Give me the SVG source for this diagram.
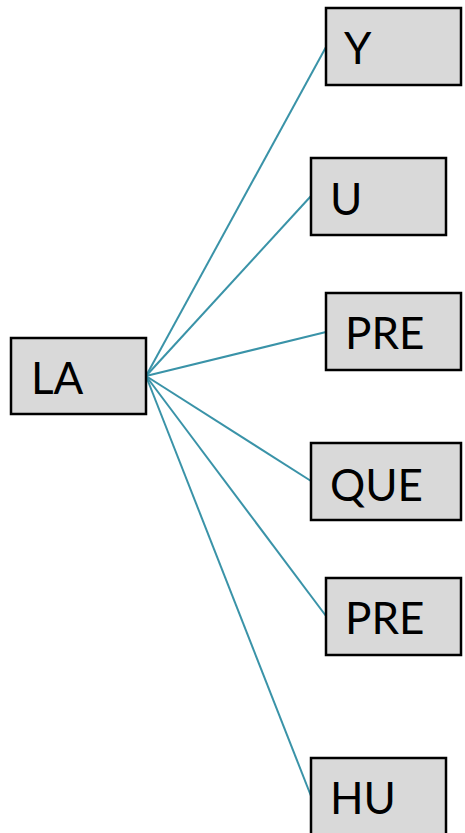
<svg xmlns="http://www.w3.org/2000/svg" width="465" height="833" viewBox="0 0 465 833">
  <style>
    .box { fill: #d9d9d9; stroke: #000; stroke-width: 2.5; }
    .lbl { font-family: Lato, "Open Sans", sans-serif; font-size: 44px; fill: #000; }
    .edge { stroke: #3a93a8; stroke-width: 2; fill: none; }
  </style>
  <rect width="465" height="833" fill="#fff"/>
  <g id="connectors">
    <line class="edge" x1="146" y1="376" x2="326" y2="47"/>
    <line class="edge" x1="146" y1="376" x2="311" y2="196"/>
    <line class="edge" x1="146" y1="376" x2="326" y2="332"/>
    <line class="edge" x1="146" y1="376" x2="311" y2="481"/>
    <line class="edge" x1="146" y1="376" x2="326" y2="616"/>
    <line class="edge" x1="146" y1="376" x2="311" y2="796"/>
  </g>
  <g id="node-la">
    <rect class="box" x="11" y="338" width="135" height="76"/>
    <text class="lbl" x="31" y="394">LA</text>
  </g>
  <g id="node-y">
    <rect class="box" x="326" y="8" width="135" height="77"/>
    <text class="lbl" x="344" y="64">Y</text>
  </g>
  <g id="node-u">
    <rect class="box" x="311" y="158" width="135" height="77"/>
    <text class="lbl" x="330" y="215">U</text>
  </g>
  <g id="node-pre1">
    <rect class="box" x="326" y="293" width="135" height="77"/>
    <text class="lbl" x="345" y="349">PRE</text>
  </g>
  <g id="node-que">
    <rect class="box" x="311" y="443" width="150" height="77"/>
    <text class="lbl" x="330" y="501">QUE</text>
  </g>
  <g id="node-pre2">
    <rect class="box" x="326" y="578" width="135" height="77"/>
    <text class="lbl" x="345" y="634">PRE</text>
  </g>
  <g id="node-hu">
    <rect class="box" x="311" y="758" width="135" height="80"/>
    <text class="lbl" x="330" y="814">HU</text>
  </g>
</svg>
